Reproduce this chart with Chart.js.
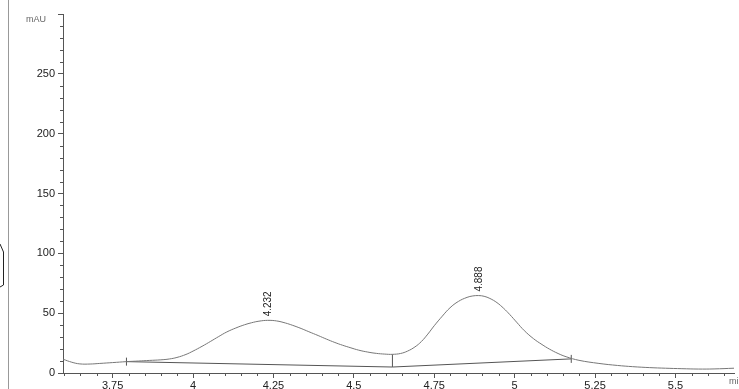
<!DOCTYPE html>
<html>
<head>
<meta charset="utf-8">
<script src="https://cdn.jsdelivr.net/npm/chart.js@4/dist/chart.umd.min.js"></script>
<style>
  html, body { margin: 0; padding: 0; background: #fff; }
  #wrap { width: 739px; height: 389px; }
</style>
</head>
<body>
<div id="wrap"><canvas id="chrom" width="739" height="389"></canvas></div>
<script>
// Retention time (min) and absorbance (mAU)
const times = [3.596, 3.623, 3.648, 3.68, 3.71, 3.75, 3.793, 3.83, 3.864, 3.9, 3.926, 3.95, 3.978, 4.0,
  4.028, 4.055, 4.08, 4.105, 4.133, 4.16, 4.182, 4.205, 4.232, 4.26, 4.287, 4.31, 4.336, 4.36, 4.389,
  4.415, 4.441, 4.465, 4.491, 4.515, 4.543, 4.57, 4.596, 4.62, 4.645, 4.667, 4.69, 4.71, 4.73, 4.75,
  4.775, 4.799, 4.825, 4.852, 4.87, 4.888, 4.905, 4.923, 4.945, 4.966, 4.985, 5.006, 5.03, 5.059,
  5.085, 5.108, 5.135, 5.16, 5.2, 5.262, 5.32, 5.367, 5.42, 5.469, 5.52, 5.571, 5.62, 5.682];
const signal = [11.5, 9, 7.6, 7.5, 8, 8.7, 9.5, 10, 10.5, 11, 11.7, 13, 15.5, 18.3,
  22.3, 26.5, 30.5, 34.3, 37.6, 40.3, 42, 43.3, 44, 43.5, 41.8, 39.8, 37.2, 34.5, 31.3,
  28.3, 25.5, 23.2, 21, 19.1, 17.5, 16.4, 15.8, 15.6, 16.3, 18.3, 21.8, 26.3, 32.5, 39.5,
  47.5, 54.5, 59.8, 63.2, 64.4, 64.7, 64.1, 62.3, 58.8, 54, 48.8, 42.5, 35.4, 28.6,
  23.8, 20, 16.3, 13.6, 10.6, 8, 6.3, 5.3, 4.5, 4, 3.6, 3.3, 3.4, 4];

// Integration baselines and peak split
const baseTimes1 = [3.793, 4.62];
const baseVals1 = [9.5, 5];
const baseTimes2 = [4.62, 5.176];
const baseVals2 = [5, 11.8];
const splitTime = 4.62;
const splitVals = [5, 15.6];

// Peak apex labels
const peakTimes = [4.232, 4.888];
const peakHeights = [44, 64.7];
const peakLabels = ['4.232', '4.888'];

const xTicks = [3.75, 4, 4.25, 4.5, 4.75, 5, 5.25, 5.5];
const yTicks = [0, 50, 100, 150, 200, 250, 300];

const axisColor = '#555';
const traceColor = '#777';

function pts(xs, ys) {
  return xs.map((x, i) => ({ x: x, y: ys[i] }));
}

// minor ticks, peak labels, axis units and page decorations
const extras = {
  id: 'extras',
  afterDraw(chart) {
    const { ctx, scales: { x, y } } = chart;
    ctx.save();
    ctx.strokeStyle = axisColor;
    ctx.lineWidth = 1;
    ctx.beginPath();
    for (let v = 10; v < 300; v += 10) {
      if (v % 50 === 0) continue;
      const py = Math.round(y.getPixelForValue(v)) + 0.5;
      ctx.moveTo(y.right - 3, py);
      ctx.lineTo(y.right, py);
    }
    for (let i = Math.ceil(x.min / 0.05); i * 0.05 <= x.max; i++) {
      if (i % 5 === 0) continue;
      const px = Math.round(x.getPixelForValue(i * 0.05)) + 0.5;
      ctx.moveTo(px, x.top);
      ctx.lineTo(px, x.top + 3);
    }
    ctx.stroke();

    // peak retention times, rotated
    ctx.fillStyle = '#222';
    ctx.font = '10px "Liberation Sans", Arial, sans-serif';
    peakTimes.forEach((t, i) => {
      const px = x.getPixelForValue(t);
      const py = y.getPixelForValue(peakHeights[i]);
      ctx.save();
      ctx.translate(px + 1, py - 4);
      ctx.rotate(-Math.PI / 2);
      ctx.textAlign = 'left';
      ctx.textBaseline = 'middle';
      ctx.fillText(peakLabels[i], 0, 0);
      ctx.restore();
    });

    // units
    ctx.fillStyle = '#666';
    ctx.font = '9px "Liberation Sans", Arial, sans-serif';
    ctx.textAlign = 'center';
    ctx.textBaseline = 'middle';
    ctx.fillText('mAU', 36, 20);
    ctx.textAlign = 'left';
    ctx.fillText('min', 729, 382);

    // left frame line and the clipped bracket
    ctx.strokeStyle = '#999';
    ctx.beginPath();
    ctx.moveTo(8.5, 0);
    ctx.lineTo(8.5, 389);
    ctx.stroke();
    ctx.strokeStyle = '#222';
    ctx.beginPath();
    ctx.moveTo(0, 244);
    ctx.lineTo(3.5, 252);
    ctx.lineTo(3.5, 285);
    ctx.lineTo(0, 287);
    ctx.stroke();
    ctx.restore();
  }
};

Chart.defaults.font.family = '"Liberation Sans", Arial, sans-serif';
Chart.defaults.font.size = 11;
Chart.defaults.color = '#222';

new Chart(document.getElementById('chrom'), {
  type: 'line',
  data: {
    datasets: [
      {
        data: pts(times, signal),
        borderColor: traceColor,
        borderWidth: 1,
        pointRadius: 0,
        tension: 0.4
      },
      {
        data: pts(baseTimes1, baseVals1),
        borderColor: axisColor,
        borderWidth: 1,
        pointStyle: 'line',
        rotation: 90,
        pointRadius: [4, 0],
        pointBorderColor: axisColor,
        pointBorderWidth: 1
      },
      {
        data: pts(baseTimes2, baseVals2),
        borderColor: axisColor,
        borderWidth: 1,
        pointStyle: 'line',
        rotation: 90,
        pointRadius: [0, 4],
        pointBorderColor: axisColor,
        pointBorderWidth: 1
      },
      {
        data: pts([splitTime, splitTime], splitVals),
        borderColor: axisColor,
        borderWidth: 1,
        pointRadius: 0
      }
    ]
  },
  options: {
    responsive: false,
    animation: false,
    layout: { padding: { top: 14, right: 0, left: 0, bottom: 0 } },
    plugins: {
      legend: { display: false },
      tooltip: { enabled: false }
    },
    scales: {
      x: {
        type: 'linear',
        min: 3.5957,
        max: 5.682,
        afterBuildTicks: s => { s.ticks = xTicks.map(v => ({ value: v })); },
        afterFit: s => { s.height = 16; },
        ticks: {
          padding: 1,
          maxRotation: 0,
          autoSkip: false,
          callback: v => String(+v.toFixed(2))
        },
        grid: { drawOnChartArea: false, tickLength: 5, tickColor: axisColor },
        border: { color: axisColor }
      },
      y: {
        min: 0,
        max: 300,
        afterBuildTicks: s => { s.ticks = yTicks.map(v => ({ value: v })); },
        afterFit: s => { s.width = 63; },
        ticks: {
          padding: 3,
          autoSkip: false,
          callback: v => (v === 300 ? '' : v)
        },
        grid: { drawOnChartArea: false, tickLength: 5, tickColor: axisColor },
        border: { color: axisColor }
      }
    }
  },
  plugins: [extras]
});
</script>
</body>
</html>
